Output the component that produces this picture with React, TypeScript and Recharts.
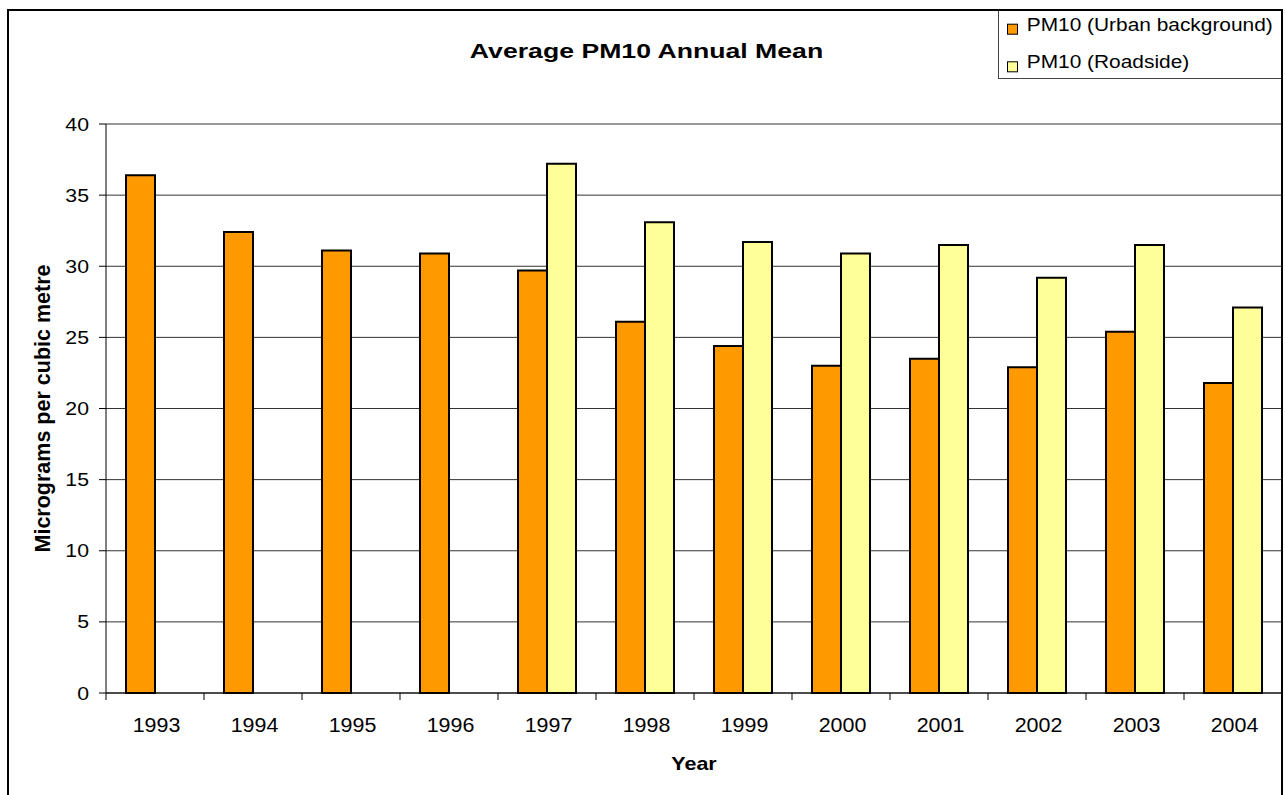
import React from "react";
import { BarChart, Bar, XAxis, YAxis, CartesianGrid, Legend } from "recharts";

const years = ["1993", "1994", "1995", "1996", "1997", "1998", "1999", "2000", "2001", "2002", "2003", "2004"];
const urbanBackground = [36.4, 32.4, 31.1, 30.9, 29.7, 26.1, 24.4, 23.0, 23.5, 22.9, 25.4, 21.8];
const roadside: (number | null)[] = [null, null, null, null, 37.2, 33.1, 31.7, 30.9, 31.5, 29.2, 31.5, 27.1];
const yTicks = [0, 5, 10, 15, 20, 25, 30, 35, 40];

const seriesNames = ["PM10 (Urban background)", "PM10 (Roadside)"];
const seriesColors = ["#FF9900", "#FFFF99"];

const data = years.map((y, i) => ({ year: y, urban: urbanBackground[i], roadside: roadside[i] }));

const W = 1285;
const H = 795;
const MARGIN = { top: 124, right: 3, bottom: 72, left: 0 };
const YAXIS_W = 106;
const XAXIS_H = 30;
const PLOT_LEFT = MARGIN.left + YAXIS_W;
const PLOT_RIGHT = W - MARGIN.right;
const PLOT_BOTTOM = H - MARGIN.bottom - XAXIS_H;
const PLOT_TOP = MARGIN.top;
const BAND = (PLOT_RIGHT - PLOT_LEFT) / years.length;
const FONT = "'Liberation Sans', Arial, Helvetica, sans-serif";

const YTick = (props: any) => {
  const { y, payload } = props;
  return (
    <text
      transform={`translate(${PLOT_LEFT - 17},${y + 6.5}) scale(1.15,1)`}
      textAnchor="end"
      fontFamily={FONT}
      fontSize={18.5}
      fill="#000"
    >
      {payload.value}
    </text>
  );
};

const XTick = (props: any) => {
  const { x, payload, index } = props;
  const isLast = index === years.length - 1;
  return (
    <g>
      <line x1={x - BAND / 2} x2={x - BAND / 2} y1={PLOT_BOTTOM} y2={PLOT_BOTTOM + 7} stroke="#000" strokeWidth={1} />
      {isLast && (
        <line x1={x + BAND / 2} x2={x + BAND / 2} y1={PLOT_BOTTOM} y2={PLOT_BOTTOM + 7} stroke="#000" strokeWidth={1} />
      )}
      <text
        transform={`translate(${x + 1.5},${PLOT_BOTTOM + 38.7}) scale(1.1,1)`}
        textAnchor="middle"
        fontFamily={FONT}
        fontSize={19.5}
        fill="#000"
      >
        {payload.value}
      </text>
    </g>
  );
};

const LegendBox = () => (
  <svg width={285} height={70} style={{ display: "block" }}>
    <rect x={0.5} y={0} width={284} height={69.5} fill="#fff" stroke="#444" strokeWidth={1} />
    {seriesNames.map((name, i) => {
      const baseline = i === 0 ? 21.7 : 59.3;
      return (
        <g key={name}>
          <rect x={9.5} y={baseline - 6.5} width={10} height={10} fill={seriesColors[i]} stroke="#000" strokeWidth={1} />
          <text
            transform={`translate(28.7,${baseline}) scale(1.13,1)`}
            fontFamily={FONT}
            fontSize={18.5}
            fill="#000"
          >
            {name}
          </text>
        </g>
      );
    })}
  </svg>
);

export default function App() {
  return (
    <div style={{ position: "absolute", left: 0, top: 0, width: W, height: H, background: "#fff", overflow: "hidden" }}>
      <div style={{ position: "absolute", left: 0, top: 0 }}>
        <BarChart
          width={W}
          height={H}
          data={data}
          margin={MARGIN}
          barCategoryGap={20}
          barGap={0}
        >
          <CartesianGrid horizontal vertical={false} stroke="#333" strokeWidth={1} />
          <XAxis
            dataKey="year"
            height={XAXIS_H}
            tickLine={false}
            axisLine={{ stroke: "#000", strokeWidth: 1 }}
            tick={<XTick />}
            interval={0}
          />
          <YAxis
            width={YAXIS_W}
            domain={[0, 40]}
            ticks={yTicks}
            tickSize={7}
            tickLine={{ stroke: "#000" }}
            axisLine={{ stroke: "#000", strokeWidth: 1 }}
            tick={<YTick />}
            interval={0}
          />
          <Legend
            layout="vertical"
            align="center"
            verticalAlign="middle"
            content={<LegendBox />}
            wrapperStyle={{ position: "absolute", left: 998, top: 9, width: 285, height: 70 }}
          />
          <Bar dataKey="urban" name={seriesNames[0]} fill={seriesColors[0]} stroke="#000" strokeWidth={2} isAnimationActive={false} />
          <Bar dataKey="roadside" name={seriesNames[1]} fill={seriesColors[1]} stroke="#000" strokeWidth={2} isAnimationActive={false} />
        </BarChart>
      </div>
      <svg width={W} height={H} style={{ position: "absolute", left: 0, top: 0, pointerEvents: "none" }}>
        <text
          transform={`translate(646.5,58) scale(1.3,1)`}
          textAnchor="middle"
          fontFamily={FONT}
          fontWeight="bold"
          fontSize={20.5}
          fill="#000"
        >
          Average PM10 Annual Mean
        </text>
        <text
          transform={`translate(${(PLOT_LEFT + PLOT_RIGHT) / 2},770) scale(1.16,1)`}
          textAnchor="middle"
          fontFamily={FONT}
          fontWeight="bold"
          fontSize={18.5}
          fill="#000"
        >
          Year
        </text>
        <text
          transform={`translate(50,${(PLOT_TOP + PLOT_BOTTOM) / 2}) rotate(-90)`}
          textAnchor="middle"
          fontFamily={FONT}
          fontWeight="bold"
          fontSize={21.5}
          fill="#000"
        >
          Micrograms per cubic metre
        </text>
      </svg>
      <div
        style={{
          position: "absolute",
          left: 7,
          top: 9,
          width: 1276,
          height: 786,
          boxSizing: "border-box",
          borderTop: "2px solid #000",
          borderLeft: "2px solid #000",
          borderRight: "2px solid #000",
          pointerEvents: "none",
        }}
      />
    </div>
  );
}
